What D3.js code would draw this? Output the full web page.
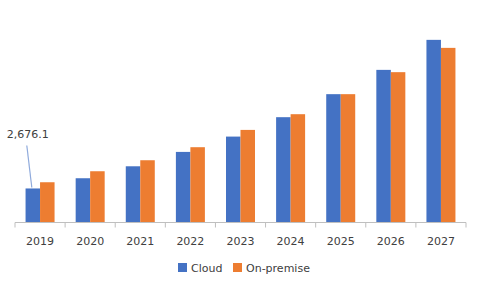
<!DOCTYPE html>
<html>
<head>
<meta charset="utf-8">
<script src="https://cdn.jsdelivr.net/npm/d3@7"></script>
<style>
  body { margin: 0; background: #fff; }
  text { font-family: "DejaVu Sans", sans-serif; }
</style>
</head>
<body>
<div id="chart"></div>
<script>
var years = ["2019", "2020", "2021", "2022", "2023", "2024", "2025", "2026", "2027"];
var cloud = [2676.1, 3480, 4420, 5550, 6755, 8280, 10090, 12000, 14360];
var onPremise = [3165, 4030, 4895, 5920, 7280, 8515, 10090, 11820, 13730];
var seriesNames = ["Cloud", "On-premise"];
var colors = ["#4472C4", "#ED7D31"];

var svg = d3.select("#chart")
    .append("svg")
    .attr("width", 481)
    .attr("height", 289),
    margin = { top: 19, right: 15, bottom: 66.5, left: 15 },
    width = +svg.attr("width") - margin.left - margin.right,
    height = +svg.attr("height") - margin.top - margin.bottom;

var g = svg.append("g")
    .attr("transform", "translate(" + margin.left + "," + margin.top + ")");

var x = d3.scaleBand().domain(years).range([0, width]).paddingInner(0).paddingOuter(0);
var x1 = d3.scaleBand().domain(seriesNames).range([x.bandwidth() / 2 - 14.5, x.bandwidth() / 2 + 14.5]);
var y = d3.scaleLinear().domain([0, 16000]).range([height, 0]);

var rows = years.map(function (yr, i) {
    return { year: yr, values: [cloud[i], onPremise[i]] };
});

// bars
var groups = g.selectAll(".grp")
    .data(rows)
    .enter().append("g")
    .attr("class", "grp")
    .attr("transform", function (d) { return "translate(" + x(d.year) + ",0)"; });

groups.selectAll("rect")
    .data(function (d) { return d.values.map(function (v, i) { return { name: seriesNames[i], value: v, i: i }; }); })
    .enter().append("rect")
    .attr("x", function (d) { return x1(d.name); })
    .attr("width", x1.bandwidth())
    .attr("y", function (d) { return y(d.value); })
    .attr("height", function (d) { return height - y(d.value); })
    .attr("fill", function (d) { return colors[d.i]; });

// x axis
var xAxis = g.append("g")
    .attr("transform", "translate(0," + height + ")");
xAxis.append("line")
    .attr("x1", 0).attr("x2", width)
    .attr("stroke", "#bfbfbf");
xAxis.selectAll(".tick")
    .data(years.concat(["end"]))
    .enter().append("line")
    .attr("x1", function (d, i) { return i * x.step(); })
    .attr("x2", function (d, i) { return i * x.step(); })
    .attr("y1", 0).attr("y2", 5)
    .attr("stroke", "#bfbfbf");
xAxis.selectAll(".lbl")
    .data(years)
    .enter().append("text")
    .attr("x", function (d) { return x(d) + x.bandwidth() / 2; })
    .attr("y", 22.5)
    .attr("text-anchor", "middle")
    .attr("font-size", "11px")
    .attr("fill", "#404040")
    .text(function (d) { return d; });

// callout for first value
var firstX = x(years[0]) + x1(seriesNames[0]) + x1.bandwidth() / 2;
g.append("line")
    .attr("x1", firstX - 6).attr("y1", y(cloud[0]) - 43)
    .attr("x2", firstX - 1).attr("y2", y(cloud[0]) - 1)
    .attr("stroke", "#8faadc")
    .attr("stroke-width", 1.2);
g.append("text")
    .attr("x", firstX - 5)
    .attr("y", y(cloud[0]) - 50)
    .attr("text-anchor", "middle")
    .attr("font-size", "11px")
    .attr("fill", "#404040")
    .text(d3.format(",.1f")(cloud[0]));

// legend
var legend = svg.append("g")
    .attr("transform", "translate(178,263)");
var legendX = [0, 55];
seriesNames.forEach(function (name, i) {
    legend.append("rect")
        .attr("x", legendX[i]).attr("y", 0)
        .attr("width", 9).attr("height", 9)
        .attr("fill", colors[i]);
    legend.append("text")
        .attr("x", legendX[i] + 13)
        .attr("y", 8.5)
        .attr("font-size", "11px")
        .attr("fill", "#404040")
        .text(name);
});
</script>
</body>
</html>
